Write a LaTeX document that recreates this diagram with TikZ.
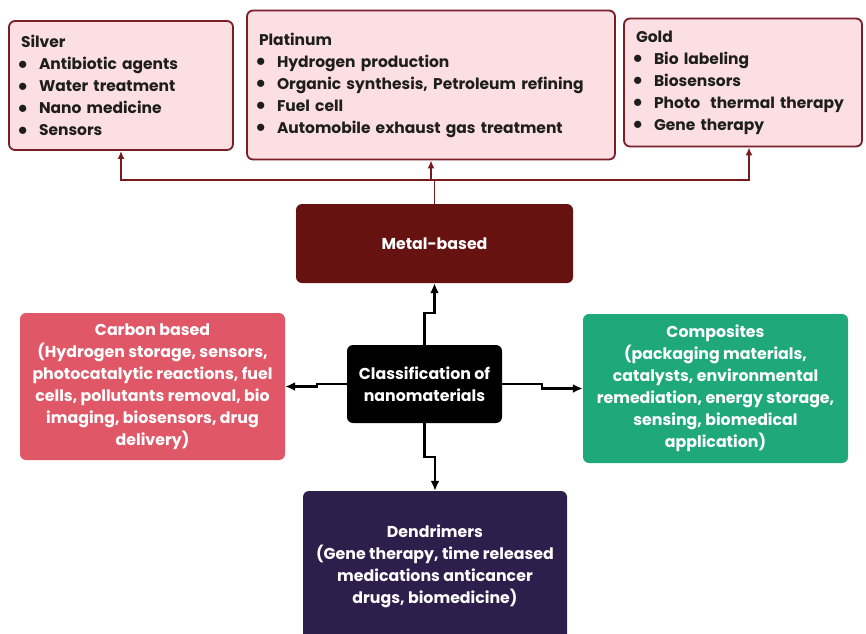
\documentclass[tikz,border=0pt]{standalone}
\usepackage{fontspec}
\setmainfont{Poppins}
\usetikzlibrary{arrows.meta,calc}
\definecolor{toppink}{RGB}{252,223,227}
\definecolor{topred}{RGB}{122,30,40}
\definecolor{linered}{RGB}{120,26,30}
\definecolor{metalred}{RGB}{102,18,17}
\definecolor{carbonred}{RGB}{224,88,104}
\definecolor{compgreen}{RGB}{31,169,122}
\definecolor{dendpurple}{RGB}{45,30,76}
\definecolor{txtdark}{RGB}{30,30,30}
\newcommand{\bul}{\makebox[21pt][l]{\raisebox{0.3pt}{\scalebox{1.3}{$\bullet$}}}}
\begin{document}
\begin{tikzpicture}[x=1pt,y=-1pt,
  every node/.style={font=\fontsize{15.5}{22}\selectfont\bfseries},
  topbox/.style={draw=topred, line width=1.8pt, fill=toppink, rounded corners=6pt,
    inner xsep=9pt, inner ysep=0pt, align=left, text=txtdark},
  colbox/.style={rounded corners=6pt, text=white, align=center, inner sep=0pt,
    font=\fontsize{15.8}{22}\selectfont\bfseries},
  redln/.style={draw=linered, line width=1.8pt},
  redarr/.style={redln, -{Latex[length=8pt,width=7pt]}},
  blkarr/.style={draw=black, line width=2.1pt, -{Latex[length=10pt,width=9pt]}}
]
\clip (0,0) rectangle (866,633);
\fill[white] (0,0) rectangle (866,633);

% top boxes
\node[topbox, text width=206pt, minimum height=129pt] (silver) at (121,85.5)
  {\hspace*{3pt}Silver\\ \bul Antibiotic agents\\ \bul Water treatment\\ \bul Nano medicine\\ \bul Sensors};
\node[topbox, text width=350pt, minimum height=149pt] (plat) at (431,85)
  {\hspace*{3pt}Platinum\\ \bul Hydrogen production\\ \bul Organic synthesis, Petroleum refining\\ \bul Fuel cell\\ \bul Automobile exhaust gas treatment};
\node[topbox, text width=220pt, minimum height=128pt] (gold) at (743,82.5)
  {\hspace*{3pt}Gold\\ \bul Bio labeling\\ \bul Biosensors\\ \bul Photo\ \ thermal therapy\\ \bul Gene therapy};

% middle boxes
\node[colbox, fill=metalred, minimum width=277pt, minimum height=79pt] (metal) at (434.5,243.5) {Metal-based};
\node[colbox, fill=black, minimum width=155pt, minimum height=78pt] (cls) at (424.5,384)
  {Classification of\\nanomaterials};
\node[colbox, fill=carbonred, minimum width=265pt, minimum height=147pt] (carbon) at (152.5,386.5)
  {Carbon based\\(Hydrogen storage, sensors,\\photocatalytic reactions, fuel\\cells, pollutants removal, bio\\imaging, biosensors, drug\\delivery)};
\node[colbox, fill=compgreen, minimum width=265pt, minimum height=149pt] (comp) at (715.5,388.5)
  {Composites\\(packaging materials,\\catalysts, environmental\\remediation, energy storage,\\sensing, biomedical\\application)};
\node[colbox, fill=dendpurple, minimum width=264pt, minimum height=150pt] (dend) at (435,566)
  {Dendrimers\\(Gene therapy, time released\\medications anticancer\\drugs, biomedicine)};

% top connectors
\coordinate (j) at ($(metal.north)+(0,-24)$);
\draw[redln] (metal.north) -- (j);
\draw[redarr] (j) -| (silver.south);
\draw[redarr] (j) -| ([xshift=6pt]gold.south);
\draw[redarr] (j -| plat.south) -- (plat.south);

% center connectors
\draw[blkarr] (cls.north) -- ++(0,-32) -| (metal.south);
\draw[blkarr] (cls.south) -- ++(0,34) -| (dend.north);
\draw[blkarr] (cls.west) -- ++(-30,0) |- (carbon.east);
\draw[blkarr] (cls.east) -- ++(40,0) |- (comp.west);
\end{tikzpicture}
\end{document}
